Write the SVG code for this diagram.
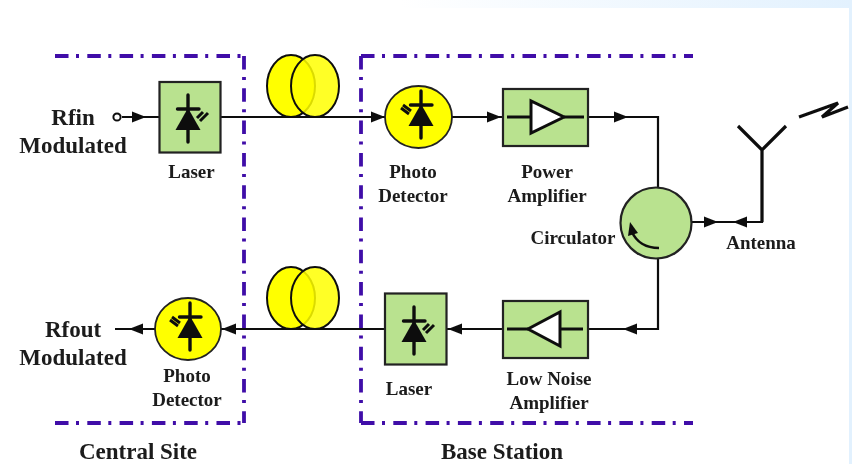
<svg xmlns="http://www.w3.org/2000/svg" width="852" height="464" viewBox="0 0 852 464">
<style>
.bd{fill:none;stroke:#3f0ca8;stroke-width:3.8;stroke-dasharray:13.500 7.500 3 8.300}
.w{fill:none;stroke:#111;stroke-width:2.200}
.th{fill:none;stroke:#111;stroke-width:3.200}
.box{fill:#b9e28f;stroke:#222;stroke-width:2.200}
.pd{fill:#ffff00;stroke:#222;stroke-width:1.800}
.fib{stroke:#111;stroke-width:2}
.k{fill:#111}
text{font-family:"Liberation Serif","Times New Roman",serif;font-weight:bold;fill:#1a1a1a;text-anchor:middle}
.s{font-size:19px}
.l{font-size:23px}
</style>
<defs>
<linearGradient id="bg" x1="0" x2="1" y1="0" y2="0"><stop offset="0" stop-color="#ffffff"/><stop offset="1" stop-color="#e2f1fe"/></linearGradient>
<filter id="soft" x="0" y="0" width="852" height="464" filterUnits="userSpaceOnUse"><feGaussianBlur stdDeviation="0.450"/></filter>
<polygon id="ar" points="0,0 -14,-5.500 -14,5.500" class="k"/>
<g id="diode">
<path fill="none" stroke="#111" stroke-width="3.400" stroke-linecap="round" d="M0,-22V25M-10.500,-8H11"/>
<polygon class="k" points="0,-9 -12.500,13 12.500,13"/>
</g>
<g id="raysR"><path d="M9,1L15,-5M12,4L20,-4" fill="none" stroke="#111" stroke-width="3"/></g>
<g id="raysL"><path d="M-20,-5L-12,1M-18,-8L-10,-2" fill="none" stroke="#111" stroke-width="3"/></g>
</defs>
<rect width="852" height="464" fill="#fff"/>
<rect x="400" y="0" width="452" height="8" fill="url(#bg)"/>
<rect x="849" y="0" width="3" height="464" fill="#e2f1fe"/>
<g filter="url(#soft)">
<g id="central-site-border"><path class="bd" d="M55,56H244"/><path class="bd" d="M244,56V423"/><path class="bd" d="M55,423H244"/></g>
<g id="base-station-border"><path class="bd" d="M361,56H693"/><path class="bd" d="M361,56V423"/><path class="bd" d="M361,423H693"/></g>
<g id="connectors">
<path class="w" d="M122,117H159M220,117H385M452,117H503M588,117H658V187M691,222H762V150M658,259V329H588M503,329H447M385,329H221M155,329H115"/>
<circle cx="117" cy="117" r="3.600" fill="#fff" stroke="#111" stroke-width="2"/>
<use href="#ar" x="146" y="117"/>
<use href="#ar" x="385" y="117"/>
<use href="#ar" x="501" y="117"/>
<use href="#ar" x="628" y="117"/>
<use href="#ar" x="718" y="222"/>
<use href="#ar" transform="translate(733,222) rotate(180)"/>
<use href="#ar" transform="translate(623,329) rotate(180)"/>
<use href="#ar" transform="translate(448,329) rotate(180)"/>
<use href="#ar" transform="translate(222,329) rotate(180)"/>
<use href="#ar" transform="translate(129,329) rotate(180)"/>
</g>
<g id="fiber-top">
<ellipse class="fib" cx="291" cy="86" rx="24" ry="31" fill="#ffff00"/>
<ellipse class="fib" cx="315" cy="86" rx="24" ry="31" fill="#ffff00" fill-opacity=".85"/>
</g>
<g id="fiber-bottom">
<ellipse class="fib" cx="291" cy="298" rx="24" ry="31" fill="#ffff00"/>
<ellipse class="fib" cx="315" cy="298" rx="24" ry="31" fill="#ffff00" fill-opacity=".85"/>
</g>
<g id="laser-central">
<rect class="box" x="159.500" y="82" width="61" height="70.500"/>
<use href="#diode" x="188" y="117"/><use href="#raysR" x="188" y="117"/>
<text class="s" x="191.500" y="178">Laser</text>
</g>
<g id="photo-detector-base">
<ellipse class="pd" cx="418.500" cy="117" rx="33.500" ry="31"/>
<use href="#diode" x="421" y="113"/><use href="#raysL" x="421" y="113"/>
<text class="s" x="413" y="178">Photo</text>
<text class="s" x="413" y="202">Detector</text>
</g>
<g id="power-amplifier">
<rect class="box" x="503" y="89" width="85" height="57"/>
<path class="th" d="M507,117H531M564,117H584"/>
<polygon points="531,101 531,133 564,117" fill="#fff" stroke="#111" stroke-width="3"/>
<text class="s" x="547" y="178">Power</text>
<text class="s" x="547" y="202">Amplifier</text>
</g>
<g id="circulator">
<circle cx="656" cy="223" r="35.500" fill="#b9e28f" stroke="#222" stroke-width="2.200"/>
<path fill="none" stroke="#111" stroke-width="2.600" d="M659,248C645,248 636,241 632,232"/>
<polygon class="k" points="630,222 628,236 638,233"/>
<text class="s" x="573" y="244">Circulator</text>
</g>
<g id="antenna">
<path class="th" d="M738,126L762,150L786,126M762,150V222"/>
<path class="th" d="M799,117L838,103L822,117L848,107"/>
<text class="s" x="761" y="249">Antenna</text>
</g>
<g id="low-noise-amplifier">
<rect class="box" x="503" y="301" width="85" height="57"/>
<path class="th" d="M507,329H528M560,329H583"/>
<polygon points="560,312 560,346 528,329" fill="#fff" stroke="#111" stroke-width="3"/>
<text class="s" x="549" y="385">Low Noise</text>
<text class="s" x="549" y="409">Amplifier</text>
</g>
<g id="laser-base">
<rect class="box" x="385" y="293.500" width="61.500" height="71"/>
<use href="#diode" x="414" y="329"/><use href="#raysR" x="414" y="329"/>
<text class="s" x="409" y="395">Laser</text>
</g>
<g id="photo-detector-central">
<ellipse class="pd" cx="188" cy="329" rx="33" ry="31"/>
<use href="#diode" x="190" y="325"/><use href="#raysL" x="190" y="325"/>
<text class="s" x="187" y="382">Photo</text>
<text class="s" x="187" y="406">Detector</text>
</g>
<g id="labels">
<text class="l" x="73" y="125">Rfin</text>
<text class="l" x="73" y="153">Modulated</text>
<text class="l" x="73" y="337">Rfout</text>
<text class="l" x="73" y="365">Modulated</text>
<text class="l" x="138" y="459">Central Site</text>
<text class="l" x="502" y="459">Base Station</text>
</g>
</g>
</svg>
